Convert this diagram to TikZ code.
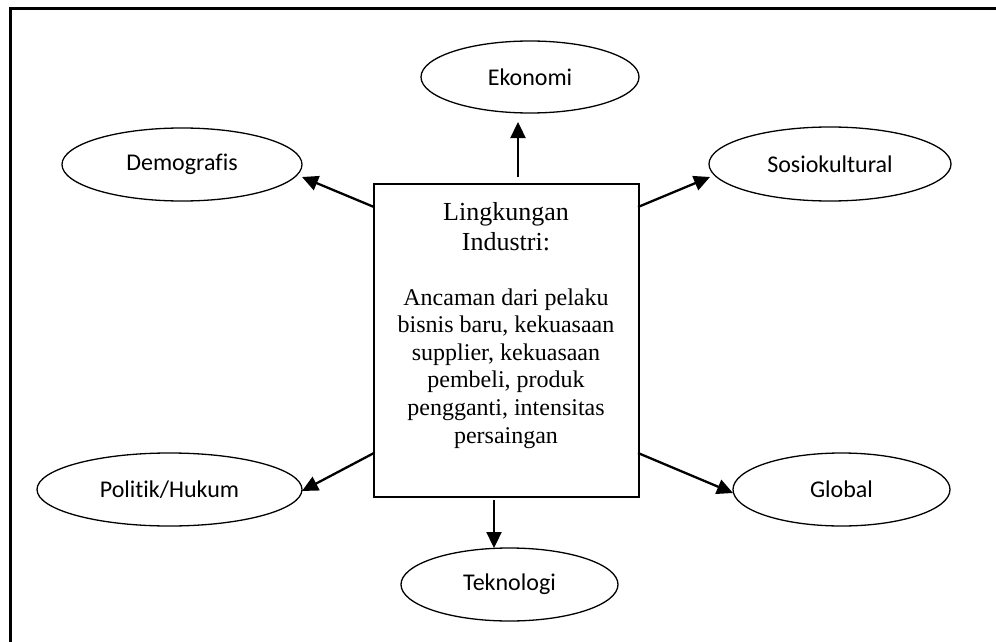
\documentclass[tikz,border=0pt]{standalone}
\usepackage{fontspec}
\setmainfont{Liberation Serif}
\newfontfamily\ovalfont[Ligatures=NoCommon]{Carlito}
\usetikzlibrary{shapes.geometric,arrows.meta}
\tikzset{
  oval/.style={ellipse, draw, line width=1.3pt, inner sep=0pt, font=\ovalfont\fontsize{24}{28}\selectfont},
  mainbox/.style={rectangle, draw, line width=1.3pt, inner sep=0pt},
  headline/.style={anchor=base, inner sep=0pt, font=\fontsize{26}{30}\selectfont},
  bodyline/.style={anchor=base, inner sep=0pt, font=\fontsize{24}{27.6}\selectfont},
  arr/.style={line width=2.3pt, -{Triangle[length=16pt,width=15pt]}},
}
\begin{document}
\begin{tikzpicture}[x=1pt,y=-1pt]
\useasboundingbox (0,0) rectangle (996,642);
% outer frame (cut by the picture edge at right and bottom)
\draw[line width=3.5pt, line join=miter] (10.5,642) -- (10.5,8.5) -- (996,8.5);
% central box
\node[mainbox, minimum width=265pt, minimum height=313pt] (box) at (506.5,340.5) {};
\node[headline] (h1) at (506,220) {Lingkungan};
\node[headline] (h2) at (506,250) {Industri:};
\node[bodyline] (l1) at (506,305) {Ancaman dari pelaku};
\node[bodyline] (l2) at (506,332.6) {bisnis baru, kekuasaan};
\node[bodyline] (l3) at (506,360.2) {supplier, kekuasaan};
\node[bodyline] (l4) at (506,387.8) {pembeli, produk};
\node[bodyline] (l5) at (506,415.4) {pengganti, intensitas};
\node[bodyline] (l6) at (506,443) {persaingan};
% ellipses
\node[oval, minimum width=218pt, minimum height=72pt] (eko) at (530,77) {Ekonomi};
\node[oval, minimum width=240pt, minimum height=73pt] (dem) at (182,164.5) {Demografis};
\node[oval, minimum width=242pt, minimum height=74pt] (sos) at (830,164) {Sosiokultural};
\node[oval, minimum width=265pt, minimum height=73pt] (pol) at (169.5,489.5) {Politik/Hukum};
\node[oval, minimum width=217pt, minimum height=73pt] (glo) at (841.5,489.5) {Global};
\node[oval, minimum width=217pt, minimum height=73pt] (tek) at (509.5,584.5) {Teknologi};
% connector ends
\coordinate (sEko) at (518,177);
\coordinate (tEko) at (518,122);
\coordinate (sDem) at (374,207);
\coordinate (tDem) at (302,177);
\coordinate (sSos) at (638,207);
\coordinate (tSos) at (710,177);
\coordinate (sPol) at (374,453);
\coordinate (tPol) at (302,491);
\coordinate (sGlo) at (638,453);
\coordinate (tGlo) at (733,493);
\coordinate (sTek) at (494,500);
\coordinate (tTek) at (494,548);
\draw[arr] (sEko) -- (tEko);
\draw[arr] (sDem) -- (tDem);
\draw[arr] (sSos) -- (tSos);
\draw[arr] (sPol) -- (tPol);
\draw[arr] (sGlo) -- (tGlo);
\draw[arr] (sTek) -- (tTek);
\end{tikzpicture}
\end{document}
